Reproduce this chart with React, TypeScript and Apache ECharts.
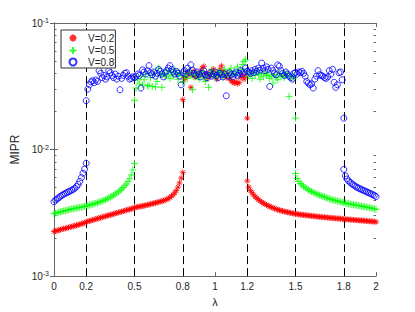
import React, { useEffect, useRef } from "react";
import * as echarts from "echarts";

// ---- data (λ step 0.01 within each segment) ----
const LAMBDA_STEP = 0.01;

const RED_LOW_START = 0;
const RED_LOW = [
  0.00225, 0.00227, 0.00229, 0.00231, 0.00233, 0.00235, 0.00237, 0.00238, 0.0024, 0.00242,
  0.00244, 0.00246, 0.00248, 0.0025, 0.00252, 0.00254, 0.00256, 0.00259, 0.00261, 0.00264,
  0.00268, 0.0027, 0.00273, 0.00275, 0.00277, 0.0028, 0.00282, 0.00285, 0.00287, 0.0029,
  0.00292, 0.00295, 0.00297, 0.003, 0.00302, 0.00305, 0.00307, 0.0031, 0.00313, 0.00315,
  0.00318, 0.00321, 0.00323, 0.00326, 0.00329, 0.00332, 0.00334, 0.00337, 0.0034, 0.00343,
  0.00348, 0.0035, 0.00352, 0.00354, 0.00356, 0.00358, 0.0036, 0.00363, 0.00365, 0.00368,
  0.0037, 0.00373, 0.00376, 0.00379, 0.00382, 0.00385, 0.00388, 0.00391, 0.00395, 0.00399,
  0.00403, 0.0041, 0.00418, 0.00428, 0.0044, 0.00455, 0.00475, 0.00505, 0.00545, 0.00595,
  0.0066,
];
const RED_MID_START = 0.8;
const RED_MID = [
  0.0248, 0.036, 0.0375, 0.041, 0.0392, 0.031, 0.0385, 0.042, 0.0372, 0.0398,
  0.038, 0.0415, 0.044, 0.0455, 0.04, 0.0365, 0.0395, 0.0378, 0.042, 0.0432,
  0.0405, 0.036, 0.039, 0.043, 0.0458, 0.042, 0.0385, 0.037, 0.04, 0.0365,
  0.035, 0.034, 0.0335, 0.0345, 0.0332, 0.0338, 0.0372, 0.039, 0.036, 0.038,
  0.0177,
];
const RED_HIGH_START = 1.2;
const RED_HIGH = [
  0.00564, 0.00505, 0.00475, 0.00455, 0.00438, 0.00424, 0.00412, 0.00402, 0.00393, 0.00385,
  0.00377, 0.00371, 0.00365, 0.0036, 0.00355, 0.0035, 0.00346, 0.00342, 0.00338, 0.00335,
  0.00332, 0.00329, 0.00327, 0.00324, 0.00322, 0.0032, 0.00318, 0.00316, 0.00314, 0.00312,
  0.0031, 0.00309, 0.00308, 0.00306, 0.00305, 0.00304, 0.00303, 0.00302, 0.00301, 0.003,
  0.00299, 0.00298, 0.00297, 0.00296, 0.00295, 0.00294, 0.00293, 0.00292, 0.00292, 0.00291,
  0.0029, 0.00289, 0.00288, 0.00288, 0.00287, 0.00286, 0.00285, 0.00285, 0.00284, 0.00283,
  0.00282, 0.00281, 0.00281, 0.0028, 0.00279, 0.00279, 0.00278, 0.00277, 0.00277, 0.00276,
  0.00275, 0.00275, 0.00274, 0.00273, 0.00273, 0.00272, 0.00271, 0.00271, 0.0027, 0.00269,
  0.00268,
];

const GREEN_LOW_START = 0;
const GREEN_LOW = [
  0.00312, 0.00314, 0.00317, 0.00319, 0.00322, 0.00324, 0.00327, 0.00329, 0.00331, 0.00334,
  0.00337, 0.00339, 0.00341, 0.00343, 0.00345, 0.00347, 0.00349, 0.00351, 0.00353, 0.00355,
  0.00358, 0.00361, 0.00364, 0.00367, 0.0037, 0.00373, 0.00377, 0.0038, 0.00384, 0.00388,
  0.00392, 0.00397, 0.00402, 0.00408, 0.00414, 0.00421, 0.00428, 0.00436, 0.00444, 0.00453,
  0.00463, 0.00474, 0.00487, 0.00501, 0.00517, 0.00535, 0.00558, 0.00588, 0.0063, 0.0069,
  0.00776,
];
const GREEN_MID_START = 0.5;
const GREEN_MID = [
  0.0245, 0.0306, 0.0356, 0.033, 0.038, 0.0325, 0.0356, 0.0395, 0.0318, 0.0322,
  0.037, 0.0315, 0.04, 0.0312, 0.0345, 0.044, 0.0385, 0.031, 0.04, 0.0375,
  0.042, 0.039, 0.0365, 0.041, 0.038, 0.043, 0.0395, 0.036, 0.0405, 0.0385,
  0.034, 0.038, 0.04, 0.0365, 0.042, 0.039, 0.0297, 0.0375, 0.041, 0.0385,
  0.036, 0.0395, 0.0415, 0.037, 0.0345, 0.038, 0.031, 0.04, 0.0425, 0.039,
  0.037, 0.0405, 0.0385, 0.0415, 0.0395, 0.0375, 0.043, 0.04, 0.038, 0.041,
  0.044, 0.0395, 0.042, 0.0385, 0.045, 0.0405, 0.043, 0.047, 0.0497, 0.0512,
  0.041, 0.038, 0.0395, 0.0365, 0.0405, 0.0385, 0.042, 0.039, 0.036, 0.04,
  0.0375, 0.041, 0.0385, 0.0395, 0.0365, 0.038, 0.0335, 0.039, 0.037, 0.0356,
  0.04, 0.038, 0.0395, 0.037, 0.0385, 0.04, 0.0263, 0.0375, 0.039, 0.0365,
  0.0177,
];
const GREEN_HIGH_START = 1.5;
const GREEN_HIGH = [
  0.00647, 0.0059, 0.0056, 0.0054, 0.00525, 0.00512, 0.005, 0.0049, 0.00481, 0.00473,
  0.00466, 0.00459, 0.00453, 0.00447, 0.00441, 0.00436, 0.00431, 0.00426, 0.00421, 0.00417,
  0.00413, 0.00409, 0.00405, 0.00401, 0.00398, 0.00395, 0.00392, 0.00389, 0.00386, 0.00383,
  0.0038, 0.00378, 0.00375, 0.00373, 0.00371, 0.00369, 0.00367, 0.00365, 0.00363, 0.00361,
  0.00359, 0.00357, 0.00355, 0.00353, 0.00351, 0.00349, 0.00347, 0.00345, 0.00343, 0.0034,
  0.00337,
];

const BLUE_LOW_START = 0;
const BLUE_LOW = [
  0.00387, 0.00398, 0.00408, 0.00417, 0.00427, 0.00436, 0.00443, 0.0045, 0.00457, 0.00464,
  0.0047, 0.00477, 0.00485, 0.00495, 0.0051, 0.0053, 0.0056, 0.006, 0.0065, 0.007,
  0.0078,
];
const BLUE_MID_START = 0.2;
const BLUE_MID = [
  0.0243, 0.03, 0.0325, 0.0343, 0.035, 0.0338, 0.0355, 0.0345, 0.042, 0.04,
  0.037, 0.0385, 0.036, 0.0375, 0.042, 0.0405, 0.0385, 0.037, 0.0395, 0.036,
  0.038, 0.0297, 0.0365, 0.0385, 0.04, 0.0405, 0.038, 0.036, 0.0365, 0.0375,
  0.037, 0.038, 0.0395, 0.0385, 0.0306, 0.0426, 0.041, 0.0395, 0.042, 0.046,
  0.0405, 0.039, 0.041, 0.038, 0.04, 0.043, 0.0415, 0.0395, 0.0375, 0.0405,
  0.042, 0.044, 0.046, 0.043, 0.041, 0.0395, 0.0415, 0.04, 0.038, 0.0325,
  0.0405, 0.042, 0.0395, 0.044, 0.041, 0.0467, 0.0425, 0.04, 0.0385, 0.041,
  0.0395, 0.0375, 0.04, 0.042, 0.039, 0.037, 0.0385, 0.0405, 0.038, 0.0395,
  0.041, 0.0385, 0.037, 0.04, 0.039, 0.0375, 0.0395, 0.0266, 0.038, 0.0405,
  0.039, 0.0375, 0.0395, 0.041, 0.0385, 0.04, 0.042, 0.0395, 0.041, 0.044,
  0.0415, 0.041, 0.04, 0.042, 0.0405, 0.043, 0.0415, 0.044, 0.0425, 0.0482,
  0.044, 0.042, 0.045, 0.043, 0.0315, 0.044, 0.042, 0.04, 0.039, 0.0467,
  0.0455, 0.042, 0.04, 0.0385, 0.041, 0.0395, 0.038, 0.037, 0.036, 0.04,
  0.0406, 0.0395, 0.041, 0.0405, 0.0415, 0.04, 0.038, 0.0345, 0.0335, 0.0325,
  0.033, 0.0306, 0.036, 0.038, 0.042, 0.039, 0.0385, 0.038, 0.037, 0.0365,
  0.0375, 0.042, 0.0395, 0.043, 0.034, 0.031, 0.0325, 0.0405, 0.041, 0.0356,
  0.0177,
];
const BLUE_HIGH_START = 1.8;
const BLUE_HIGH = [
  0.00697, 0.0062, 0.00585, 0.00565, 0.0055, 0.00537, 0.00525, 0.00515, 0.00505, 0.00497,
  0.0049, 0.00483, 0.00477, 0.00471, 0.00465, 0.00458, 0.00452, 0.00446, 0.0044, 0.00434,
  0.00425,
];

const SERIES_NAMES = ["V=0.2", "V=0.5", "V=0.8"];
const X_TICKS = [0, 0.2, 0.5, 0.8, 1, 1.2, 1.5, 1.8, 2];
const DASHED_LAMBDAS = [0.2, 0.5, 0.8, 1.2, 1.5, 1.8];
const Y_MINOR_TICKS = [
  0.002, 0.003, 0.004, 0.005, 0.006, 0.007, 0.008, 0.009,
  0.02, 0.03, 0.04, 0.05, 0.06, 0.07, 0.08, 0.09,
];

// ---- helpers ----
function segment(start: number, values: number[]): number[][] {
  return values.map((v, i) => [Math.round((start + i * LAMBDA_STEP) * 100) / 100, v]);
}

const FONT = "Liberation Sans, Arial, Helvetica, sans-serif";
const AXIS_COLOR = "#666666";
const TEXT_COLOR = "#262626";

const STAR_PATH = "path://M0,5L10,5M5,0L5,10M1.5,1.5L8.5,8.5M1.5,8.5L8.5,1.5";
const PLUS_PATH = "path://M0,5L10,5M5,0L5,10";

export default function App() {
  const ref = useRef<HTMLDivElement>(null);

  useEffect(() => {
    if (!ref.current) return;
    const chart = echarts.init(ref.current, undefined, { renderer: "svg" });

    const redData = [
      ...segment(RED_LOW_START, RED_LOW),
      ...segment(RED_MID_START, RED_MID),
      ...segment(RED_HIGH_START, RED_HIGH),
    ];
    const greenData = [
      ...segment(GREEN_LOW_START, GREEN_LOW),
      ...segment(GREEN_MID_START, GREEN_MID),
      ...segment(GREEN_HIGH_START, GREEN_HIGH),
    ];
    const blueData = [
      ...segment(BLUE_LOW_START, BLUE_LOW),
      ...segment(BLUE_MID_START, BLUE_MID),
      ...segment(BLUE_HIGH_START, BLUE_HIGH),
    ];

    const minorLog = Y_MINOR_TICKS.map((v) => Math.log10(v));

    const xBase = {
      type: "value" as const,
      min: 0,
      max: 2,
      splitLine: { show: false },
      axisLine: { show: true, lineStyle: { color: AXIS_COLOR, width: 1 } },
      axisTick: {
        show: true,
        inside: true,
        length: 4,
        customValues: X_TICKS,
        lineStyle: { color: AXIS_COLOR },
      },
    };

    const option: any = {
      animation: false,
      backgroundColor: "#ffffff",
      textStyle: { fontFamily: FONT },
      grid: { left: 54, right: 39, top: 23, bottom: 35, containLabel: false },
      legend: {
        show: true,
        z: 20,
        data: SERIES_NAMES,
        orient: "vertical",
        left: 61,
        top: 30,
        itemWidth: 20,
        itemHeight: 7,
        itemGap: 0.5,
        padding: [2, 1, 1, 6],
        borderColor: "#333333",
        borderWidth: 1,
        borderRadius: 0,
        backgroundColor: "#ffffff",
        textStyle: { fontSize: 10, lineHeight: 10, color: TEXT_COLOR, fontFamily: FONT },
        selectedMode: false,
      },
      xAxis: [
        {
          ...xBase,
          position: "bottom",
          name: "λ",
          nameLocation: "middle",
          nameGap: 16,
          nameTextStyle: { fontSize: 11, color: TEXT_COLOR, fontFamily: FONT },
          axisLabel: {
            show: true,
            customValues: X_TICKS,
            margin: 5,
            fontSize: 10,
            color: TEXT_COLOR,
            fontFamily: FONT,
          },
        },
        {
          ...xBase,
          position: "top",
          axisLabel: { show: false },
        },
      ],
      yAxis: [
        {
          type: "log",
          logBase: 10,
          min: 0.001,
          max: 0.1,
          position: "left",
          name: "MIPR",
          nameLocation: "middle",
          nameRotate: 90,
          nameGap: 29,
          nameTextStyle: { fontSize: 12, color: TEXT_COLOR, fontFamily: FONT },
          splitLine: { show: false },
          axisLine: { show: true, lineStyle: { color: AXIS_COLOR, width: 1 } },
          axisTick: { show: true, inside: true, length: 4, lineStyle: { color: AXIS_COLOR } },
          axisLabel: {
            show: true,
            margin: 5,
            color: TEXT_COLOR,
            fontFamily: FONT,
            formatter: (v: number) => `{b|10}{s|${Math.round(Math.log10(v))}}`,
            rich: {
              b: { fontSize: 10, color: TEXT_COLOR, fontFamily: FONT, lineHeight: 12 },
              s: {
                fontSize: 7,
                color: TEXT_COLOR,
                fontFamily: FONT,
                verticalAlign: "top",
                lineHeight: 12,
                padding: [0, 0, 6, 0],
              },
            },
          },
        },
        {
          type: "log",
          logBase: 10,
          min: 0.001,
          max: 0.1,
          position: "right",
          splitLine: { show: false },
          axisLine: { show: true, lineStyle: { color: AXIS_COLOR, width: 1 } },
          axisTick: { show: true, inside: true, length: 4, lineStyle: { color: AXIS_COLOR } },
          axisLabel: { show: false },
        },
        {
          type: "value",
          min: -3,
          max: -1,
          position: "left",
          splitLine: { show: false },
          axisLine: { show: false },
          axisTick: {
            show: true,
            inside: true,
            length: 2.5,
            customValues: minorLog,
            lineStyle: { color: AXIS_COLOR },
          },
          axisLabel: { show: false },
        },
        {
          type: "value",
          min: -3,
          max: -1,
          position: "right",
          splitLine: { show: false },
          axisLine: { show: false },
          axisTick: {
            show: true,
            inside: true,
            length: 2.5,
            customValues: minorLog,
            lineStyle: { color: AXIS_COLOR },
          },
          axisLabel: { show: false },
        },
      ],
      series: [
        {
          name: SERIES_NAMES[0],
          type: "scatter",
          xAxisIndex: 0,
          yAxisIndex: 0,
          data: redData,
          symbol: STAR_PATH,
          symbolSize: 6,
          symbolKeepAspect: true,
          itemStyle: { color: "none", borderColor: "#ff0000", borderWidth: 1 },
          emphasis: { disabled: true },
          markLine: {
            silent: true,
            z: 1,
            symbol: ["none", "none"],
            label: { show: false },
            lineStyle: { type: [8, 4], color: "#000000", width: 1 },
            emphasis: { disabled: true },
            data: DASHED_LAMBDAS.map((x) => ({ xAxis: x })),
          },
        },
        {
          name: SERIES_NAMES[1],
          type: "scatter",
          xAxisIndex: 0,
          yAxisIndex: 0,
          data: greenData,
          symbol: PLUS_PATH,
          symbolSize: 7,
          symbolKeepAspect: true,
          itemStyle: { color: "none", borderColor: "#00ff00", borderWidth: 1 },
          emphasis: { disabled: true },
        },
        {
          name: SERIES_NAMES[2],
          type: "scatter",
          xAxisIndex: 0,
          yAxisIndex: 0,
          data: blueData,
          symbol: "circle",
          symbolSize: 6,
          itemStyle: { color: "rgba(0,0,0,0)", borderColor: "#0000ff", borderWidth: 1 },
          emphasis: { disabled: true },
        },
      ],
    };

    chart.setOption(option);
    return () => chart.dispose();
  }, []);

  return (
    <div
      ref={ref}
      style={{ position: "fixed", left: 0, top: 0, width: 415, height: 312, background: "#fff" }}
    />
  );
}
